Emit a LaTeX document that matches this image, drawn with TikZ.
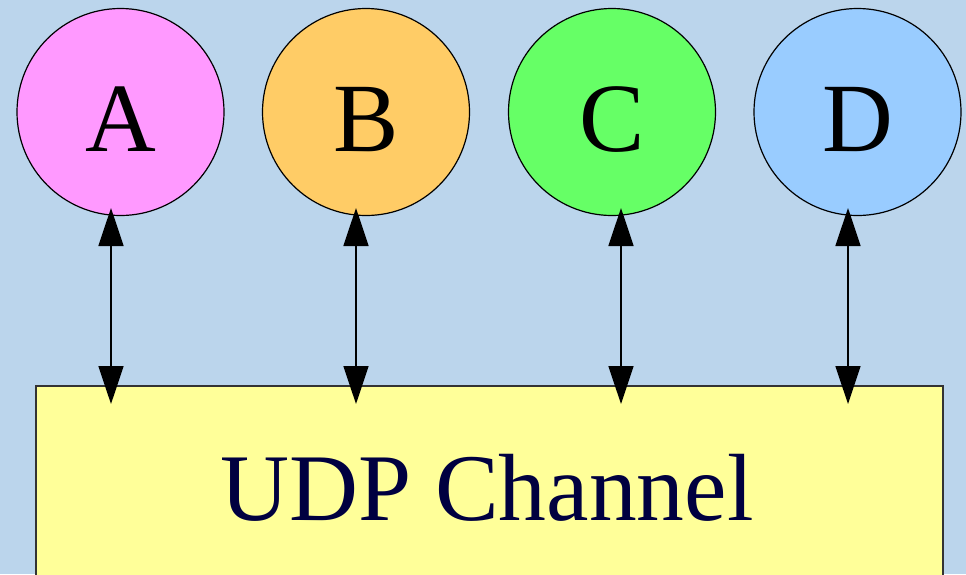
\documentclass[tikz,border=0pt]{standalone}
\usepackage{fontspec}
\setmainfont{Liberation Serif}
\usetikzlibrary{arrows.meta}
\definecolor{bg}{HTML}{BBD5EC}
\definecolor{ca}{HTML}{FF99FF}
\definecolor{cb}{HTML}{FFCC66}
\definecolor{cc}{HTML}{66FF66}
\definecolor{cd}{HTML}{99CCFF}
\definecolor{chan}{HTML}{FFFF99}
\definecolor{navy}{HTML}{000040}
\tikzset{
  peer/.style={circle, draw=black, line width=1.2pt, minimum size=207pt, inner sep=0pt},
  lbl/.style={anchor=base, font=\fontsize{98}{100}\selectfont, inner sep=0pt},
  link/.style={line width=1.6pt, {Triangle[length=38pt,width=25pt]}-{Triangle[length=38pt,width=25pt]}, shorten <=0pt, shorten >=0pt},
  chanbox/.style={draw=black!80, line width=1.2pt, fill=chan, minimum width=907pt, minimum height=220pt, inner sep=0pt}
}
\begin{document}
\begin{tikzpicture}[x=1pt,y=-1pt]
\useasboundingbox (0,0) rectangle (966,574);
\clip (0,0) rectangle (966,574);
\fill[bg] (0,0) rectangle (966,574);
\node[peer, fill=ca] (A) at (120.5,112) {};
\node[peer, fill=cb] (B) at (366,112) {};
\node[peer, fill=cc] (C) at (612,112) {};
\node[peer, fill=cd] (D) at (857.5,112) {};
\node[lbl] (tA) at (120.5,151) {A};
\node[lbl] (tB) at (366,151) {B};
\node[lbl] (tC) at (612,151) {C};
\node[lbl] (tD) at (857.5,151) {D};
\node[chanbox] (udp) at (489.5,496) {};
\node[lbl, text=navy, font=\fontsize{95.5}{100}\selectfont] (tudp) at (487,520) {UDP Channel};
\coordinate (a1) at (111,208); \coordinate (a2) at (111,404);
\coordinate (b1) at (356,208); \coordinate (b2) at (356,404);
\coordinate (c1) at (621,208); \coordinate (c2) at (621,404);
\coordinate (d1) at (848,208); \coordinate (d2) at (848,404);
\draw[link] (a1) -- (a2);
\draw[link] (b1) -- (b2);
\draw[link] (c1) -- (c2);
\draw[link] (d1) -- (d2);
\end{tikzpicture}
\end{document}
